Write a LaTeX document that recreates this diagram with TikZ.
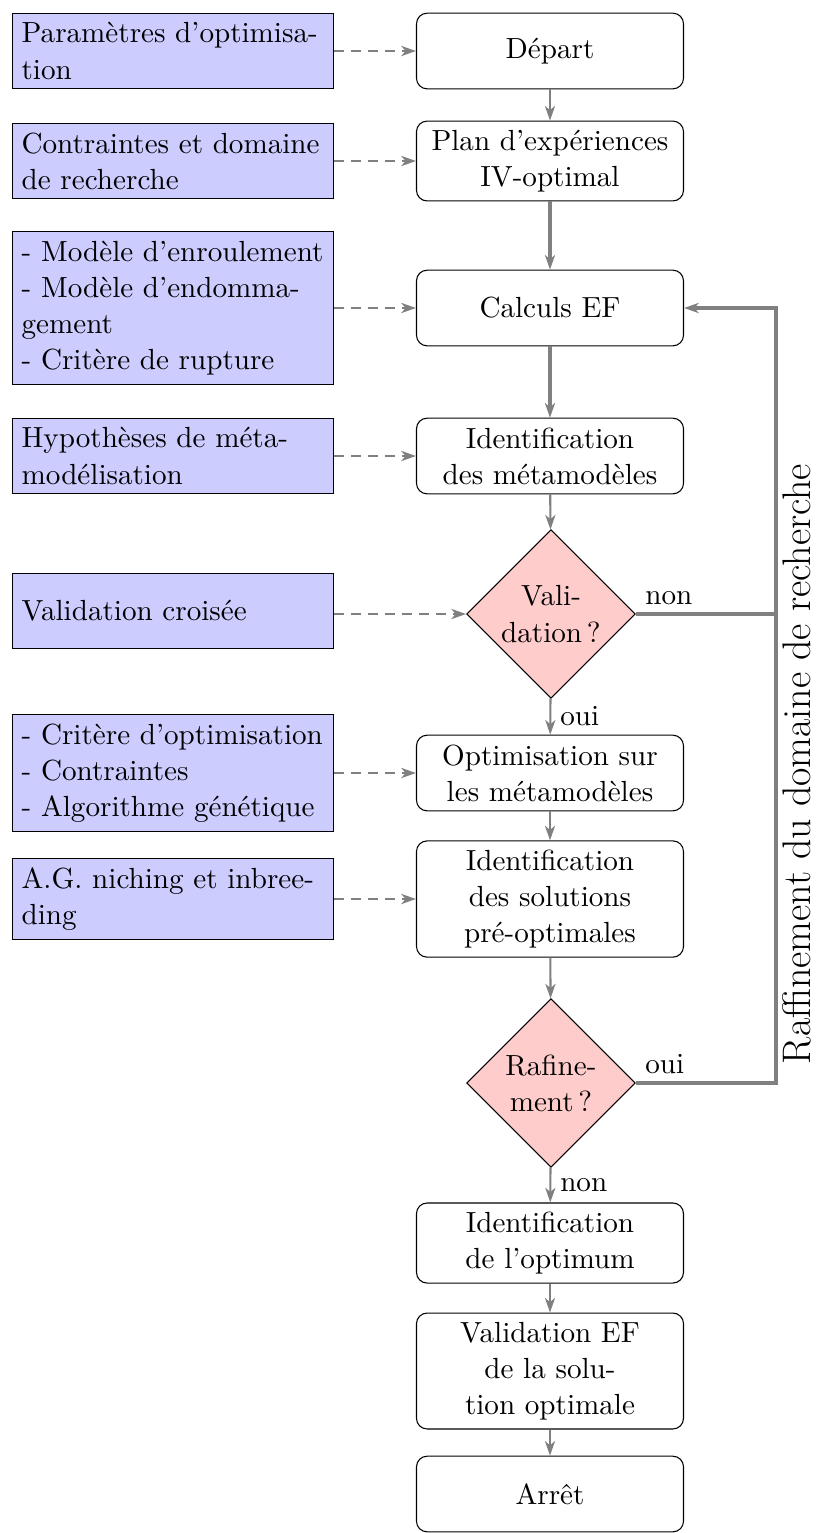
\documentclass[tikz,border=0pt]{standalone}
\usepackage{fontspec}
\usetikzlibrary{shapes.geometric,arrows.meta}
\begin{document}
\begin{tikzpicture}[x=0.376pt,y=-0.376pt,
  every node/.style={font=\fontsize{10.95pt}{13.6pt}\selectfont},
  inbox/.style={rectangle,draw,fill=blue!20,text width=4cm,minimum height=1cm,align=left},
  stepbox/.style={rectangle,draw,rounded corners,minimum width=100.4pt,minimum height=1cm,align=center},
  decision/.style={diamond,draw,fill=red!20,aspect=1,inner sep=0pt,minimum width=63.5pt,minimum height=63.5pt,align=center},
  tip/.style={-{Stealth[length=5.5pt,width=3.8pt,inset=1.6pt]}},
  flow/.style={draw=gray,thick,tip},
  bigflow/.style={draw=gray,line width=1.2pt,tip},
  feed/.style={draw=gray,line width=1.1pt,dash pattern=on 3.8pt off 2.6pt,tip},
  back/.style={draw=gray,line width=1.2pt},
  sidelabel/.style={rotate=90,inner sep=0.5pt,font=\fontsize{15pt}{18pt}\selectfont}]
\useasboundingbox (0,0) rectangle (816,1533);
% main column
\node[stepbox] (dep) at (550,51) {Départ};
\node[stepbox] (plan) at (550,161) {Plan d’expériences\\IV-optimal};
\node[stepbox] (calc) at (550,308) {Calculs EF};
\node[stepbox] (idm) at (550,456) {Identification\\des métamodèles};
\node[decision] (val) at (551,614) {Vali-\\dation\,?};
\node[stepbox] (opt) at (550,773) {Optimisation sur\\les métamodèles};
\node[stepbox] (ids) at (550,899) {Identification\\des solutions\\pré-optimales};
\node[decision] (raf) at (551,1083) {Rafine-\\ment\,?};
\node[stepbox] (ido) at (550,1243) {Identification\\de l’optimum};
\node[stepbox] (vef) at (550,1371) {Validation EF\\de la solu-\\tion optimale};
\node[stepbox] (arr) at (550,1494) {Arrêt};
% inputs
\node[inbox] (p1) at (173,51) {Paramètres d’optimisa-\\tion};
\node[inbox] (p2) at (173,161) {Contraintes et domaine\\de recherche};
\node[inbox] (p3) at (173,308) {- Modèle d’enroulement\\- Modèle d’endomma-\\gement\\- Critère de rupture};
\node[inbox] (p4) at (173,456) {Hypothèses de méta-\\modélisation};
\node[inbox] (p5) at (173,611) {Validation croisée};
\node[inbox] (p6) at (173,773) {- Critère d’optimisation\\- Contraintes\\- Algorithme génétique};
\node[inbox] (p7) at (173,899) {A.G. niching et inbree-\\ding};
% dashed inputs
\draw[feed] (p1) -- (dep);
\draw[feed] (p2) -- (plan);
\draw[feed] (p3) -- (calc);
\draw[feed] (p4) -- (idm);
\draw[feed] (p5.east |- val.west) -- (val.west);
\draw[feed] (p6) -- (opt);
\draw[feed] (p7) -- (ids);
% main flow
\draw[flow] (dep) -- (plan);
\draw[bigflow] (plan) -- (calc);
\draw[bigflow] (calc) -- (idm);
\draw[flow] (idm) -- (val);
\draw[flow] (val) -- node[right] {oui} (opt);
\draw[flow] (opt) -- (ids);
\draw[flow] (ids) -- (raf);
\draw[flow] (raf) -- node[right] {non} (ido);
\draw[flow] (ido) -- (vef);
\draw[flow] (vef) -- (arr);
% feedback loop
\coordinate (c1) at (776,1083);
\coordinate (c2) at (776,614);
\coordinate (c3) at (776,308);
\draw[back,tip] (raf.east) -- (c1) |- (calc.east);
\draw[back] (val.east) -- (c2);
\node[above right] at (val.east) {non};
\node[above right] at (raf.east) {oui};
\node[sidelabel] (lab) at (797,764) {Raffinement du domaine de recherche};
\end{tikzpicture}
\end{document}
